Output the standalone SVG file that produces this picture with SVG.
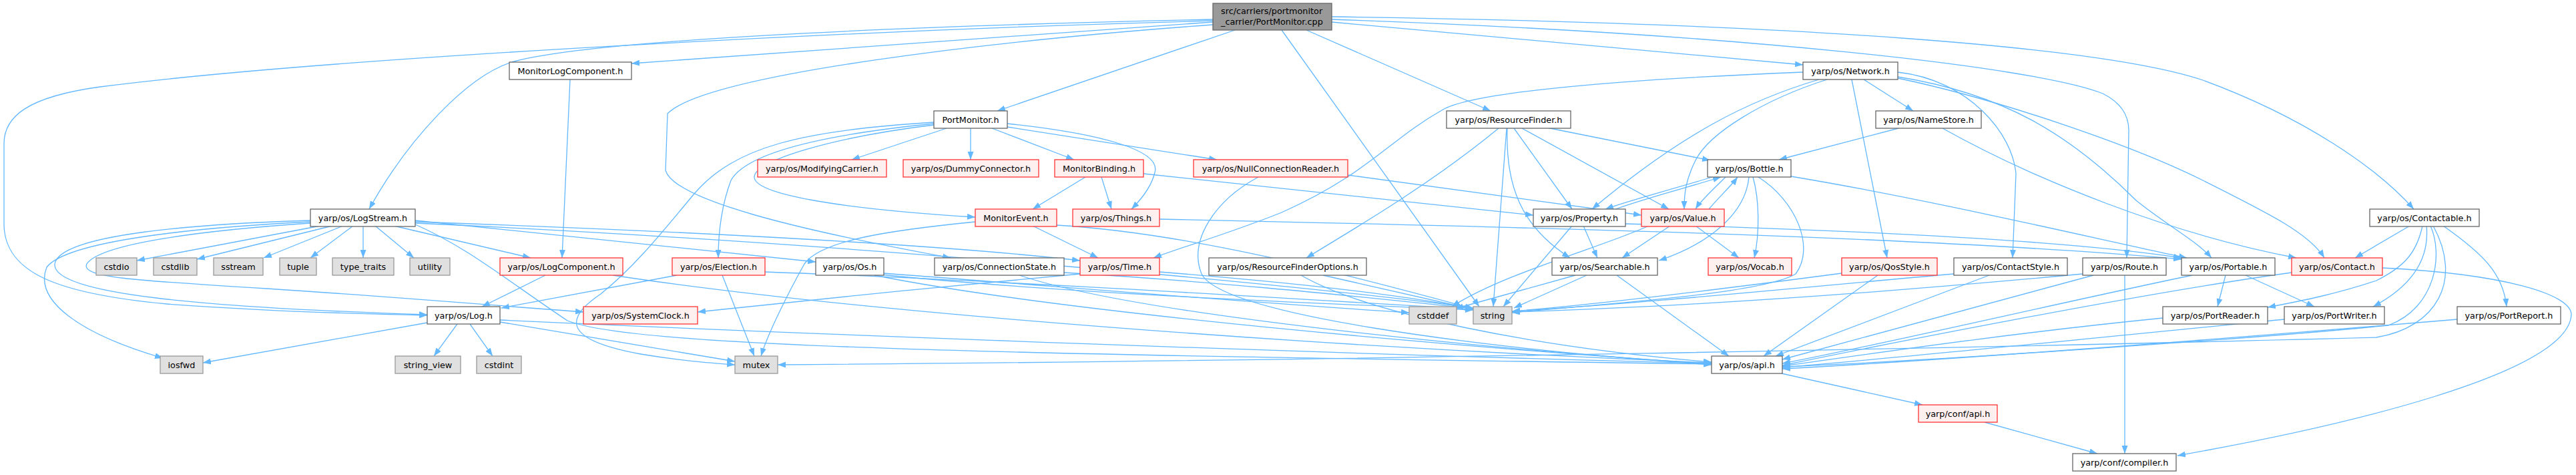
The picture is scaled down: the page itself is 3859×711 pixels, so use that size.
<svg xmlns="http://www.w3.org/2000/svg" width="3859" height="711" viewBox="0 0 3859 711">
<style>
text{font-family:"DejaVu Sans","Liberation Sans",sans-serif;font-size:12.8px;fill:#000;text-anchor:middle}
.w rect{fill:#fff;stroke:#666;stroke-width:1.3}
.r rect{fill:#FFF0F0;stroke:#f33;stroke-width:1.3}
.g rect{fill:#E0E0E0;stroke:#999;stroke-width:1.3}
.t rect{fill:#999;stroke:#666;stroke-width:1.3}
#edges path{fill:none;stroke:#63B8FF;stroke-width:1.3;marker-end:url(#a)}
</style>
<defs><marker id="a" markerWidth="12" markerHeight="9" refX="12" refY="4.5" orient="auto" markerUnits="userSpaceOnUse"><path d="M0,0L12,4.5L0,9z" fill="#63B8FF"/></marker></defs>
<rect width="3859" height="711" fill="#fff"/>
<g id="edges">
<path d="M1817,33 L946,95"/>
<path d="M1817,29 C1300,40 880,62 770,92 C700,112 610,210 553,313"/>
<path d="M1817,31 C1300,45 500,85 150,130 C40,145 6,175 6,215 L6,335 C6,410 90,440 250,455 C400,466 540,470 640,472"/>
<path d="M1817,37 C1500,60 1060,110 1000,170 L997,255 C1010,300 1200,345 1424,386"/>
<path d="M1850,45 L1494,166"/>
<path d="M1957,45 L2233,166"/>
<path d="M1920,45 L2216,459"/>
<path d="M1995,33 L2701,97"/>
<path d="M1995,25 C2700,35 3150,70 3300,120 C3450,175 3560,250 3616,313"/>
<path d="M1995,29 C2600,50 3050,100 3150,140 C3180,155 3189,175 3189,195 L3186,386"/>
<path d="M854,119 L842,386"/>
<path d="M1418,192 L1276,239"/>
<path d="M1454,192 L1454,239"/>
<path d="M1486,192 L1609,239"/>
<path d="M1509,185 C1650,200 1740,225 1730,258 C1725,280 1710,298 1695,313"/>
<path d="M1509,190 L1823,239"/>
<path d="M1399,183 C1200,195 1100,220 1040,290 C990,350 950,400 900,440 C840,480 850,510 960,530 C1020,540 1060,543 1101,546"/>
<path d="M1399,185 C1250,200 1120,225 1095,270 C1080,310 1076,350 1076,386"/>
<path d="M1399,187 C1250,205 1130,240 1130,265 C1130,290 1250,312 1461,325"/>
<path d="M1626,265 L1547,313"/>
<path d="M1650,265 L1665,313"/>
<path d="M1713,260 L2297,322"/>
<path d="M2019,262 L2459,322"/>
<path d="M1885,265 C1820,300 1780,360 1800,410 C1830,470 2200,520 2564,546"/>
<path d="M1737,328 C2300,340 2900,355 3268,388"/>
<path d="M1547,338 L1645,386"/>
<path d="M1461,332 C1330,345 1230,360 1205,395 C1180,440 1150,500 1140,533"/>
<path d="M1583,337 C1800,350 2050,420 2207,462"/>
<path d="M2245,192 C2150,270 2050,330 1957,386"/>
<path d="M2257,192 L2237,459"/>
<path d="M2258,192 C2255,280 2280,340 2352,386"/>
<path d="M2268,192 L2355,313"/>
<path d="M2280,192 L2500,313"/>
<path d="M2317,191 L2562,240"/>
<path d="M2701,108 C2400,120 2200,140 2160,165 C2080,210 2050,260 1920,318 C1840,350 1770,370 1728,386"/>
<path d="M2725,119 C2620,150 2520,200 2385,313"/>
<path d="M2737,119 C2640,150 2560,200 2540,240 C2525,270 2523,290 2523,313"/>
<path d="M2774,119 L2827,386"/>
<path d="M2792,119 L2866,166"/>
<path d="M2843,108 C2950,120 3015,200 3020,260 L3015,386"/>
<path d="M2843,117 C3000,150 3200,220 3300,270 C3400,320 3460,350 3482,386"/>
<path d="M2843,115 C3000,140 3100,200 3200,300 C3250,340 3290,360 3313,386"/>
<path d="M2844,192 L2665,239"/>
<path d="M2910,192 C3050,270 3250,350 3440,386"/>
<path d="M2565,265 C2500,285 2440,300 2405,313"/>
<path d="M2420,313 C2470,295 2530,280 2578,265"/>
<path d="M2585,265 C2565,285 2548,300 2540,313"/>
<path d="M2560,313 C2575,295 2592,280 2603,265"/>
<path d="M2620,265 C2615,320 2560,365 2485,390"/>
<path d="M2626,265 C2636,300 2636,350 2628,386"/>
<path d="M2634,265 C2690,300 2720,370 2690,410 C2640,440 2400,455 2265,468"/>
<path d="M2683,264 C2900,300 3150,360 3276,386"/>
<path d="M2372,338 L2393,386"/>
<path d="M2355,338 L2252,459"/>
<path d="M2435,335 C2800,345 3100,360 3268,386"/>
<path d="M2502,338 L2430,386"/>
<path d="M2470,338 C2400,370 2250,410 2175,459"/>
<path d="M2540,338 L2605,386"/>
<path d="M2377,412 L2268,461"/>
<path d="M2360,412 L2180,462"/>
<path d="M2422,412 L2590,533"/>
<path d="M1982,412 L2207,463"/>
<path d="M1949,412 C2050,470 2300,520 2564,542"/>
<path d="M1527,412 C1700,470 2200,520 2564,545"/>
<path d="M1594,408 C1800,420 2000,440 2207,462"/>
<path d="M1618,410 C1450,425 1200,450 1045,467"/>
<path d="M1737,407 C1900,420 2100,440 2207,463"/>
<path d="M1324,409 C1600,430 1900,455 2111,468"/>
<path d="M1310,412 C1600,470 2200,520 2564,545"/>
<path d="M1320,411 C1600,440 2000,455 2207,464"/>
<path d="M1014,412 L751,461"/>
<path d="M1082,412 L1130,533"/>
<path d="M1146,407 C1500,420 1900,445 2207,463"/>
<path d="M817,412 L722,459"/>
<path d="M918,412 C1300,470 2000,520 2564,543"/>
<path d="M640,483 L304,543"/>
<path d="M685,485 L650,533"/>
<path d="M704,485 L738,533"/>
<path d="M749,482 L1101,541"/>
<path d="M749,479 C1200,500 2000,530 2564,544"/>
<path d="M480,338 L205,390"/>
<path d="M498,338 L295,388"/>
<path d="M514,338 L395,386"/>
<path d="M529,338 L465,386"/>
<path d="M544,338 L544,386"/>
<path d="M562,338 L620,386"/>
<path d="M590,338 L795,386"/>
<path d="M622,330 L1222,392"/>
<path d="M622,332 C1000,345 1400,365 1618,390"/>
<path d="M622,334 C1200,360 1900,420 2207,461"/>
<path d="M465,330 C300,335 90,350 82,395 C78,440 300,460 640,471"/>
<path d="M465,332 C300,340 100,360 70,400 C50,450 120,500 244,536"/>
<path d="M465,334 C300,345 150,365 130,395 C120,415 200,420 400,432 C600,445 750,458 874,467"/>
<path d="M622,336 C700,370 760,420 850,480 C950,520 1500,530 2564,545"/>
<path d="M3610,338 L3528,386"/>
<path d="M3629,338 C3620,380 3600,400 3560,420 C3500,440 3450,450 3397,460"/>
<path d="M3635,338 C3640,390 3610,430 3555,459"/>
<path d="M3641,338 C3660,380 3650,460 3578,487 C3400,505 2900,540 2670,549"/>
<path d="M3660,338 C3720,380 3750,410 3755,459"/>
<path d="M3645,338 C3690,420 3650,490 3560,505 C3000,520 2000,540 1165,546"/>
<path d="M3334,412 L3322,459"/>
<path d="M3364,412 L3467,459"/>
<path d="M3284,412 C3100,450 2800,520 2670,544"/>
<path d="M3433,408 C3200,440 2800,520 2670,547"/>
<path d="M3569,401 C3750,410 3850,440 3852,470 C3850,560 3500,640 3262,682"/>
<path d="M3136,412 L2670,538"/>
<path d="M3183,412 L3183,679"/>
<path d="M3120,410 C2800,440 2500,460 2265,467"/>
<path d="M2980,412 L2660,533"/>
<path d="M2927,410 C2700,430 2450,455 2265,466"/>
<path d="M2813,412 L2642,533"/>
<path d="M2759,409 C2600,430 2400,455 2265,466"/>
<path d="M3240,476 C3000,500 2800,530 2670,548"/>
<path d="M3422,478 C3100,510 2800,540 2670,550"/>
<path d="M3681,478 C3300,510 2900,540 2670,552"/>
<path d="M2669,559 L2880,606"/>
<path d="M2973,632 L3142,679"/>
</g>
<g id="n0" class="t"><rect x="1817" y="5" width="178" height="40"/><text x="1829" y="20.5" style="text-anchor:start">src/carriers/portmonitor</text><text x="1829" y="36.5" style="text-anchor:start">_carrier/PortMonitor.cpp</text></g>
<g id="n1" class="w"><rect x="763" y="93" width="183" height="26"/><text x="854.5" y="110.5">MonitorLogComponent.h</text></g>
<g id="n2" class="w"><rect x="2701" y="93" width="142" height="26"/><text x="2772" y="110.5">yarp/os/Network.h</text></g>
<g id="n3" class="w"><rect x="1399" y="166" width="110" height="26"/><text x="1454" y="183.5">PortMonitor.h</text></g>
<g id="n4" class="w"><rect x="2167" y="166" width="186" height="26"/><text x="2260" y="183.5">yarp/os/ResourceFinder.h</text></g>
<g id="n5" class="w"><rect x="2810" y="166" width="158" height="26"/><text x="2889" y="183.5">yarp/os/NameStore.h</text></g>
<g id="n6" class="r"><rect x="1135" y="239" width="193" height="26"/><text x="1231.5" y="256.5">yarp/os/ModifyingCarrier.h</text></g>
<g id="n7" class="r"><rect x="1353" y="239" width="203" height="26"/><text x="1454.5" y="256.5">yarp/os/DummyConnector.h</text></g>
<g id="n8" class="r"><rect x="1580" y="239" width="133" height="26"/><text x="1646.5" y="256.5">MonitorBinding.h</text></g>
<g id="n9" class="r"><rect x="1788" y="239" width="231" height="26"/><text x="1903.5" y="256.5">yarp/os/NullConnectionReader.h</text></g>
<g id="n10" class="w"><rect x="2558" y="239" width="125" height="26"/><text x="2620.5" y="256.5">yarp/os/Bottle.h</text></g>
<g id="n11" class="w"><rect x="465" y="313" width="157" height="26"/><text x="543.5" y="330.5">yarp/os/LogStream.h</text></g>
<g id="n12" class="r"><rect x="1461" y="313" width="122" height="26"/><text x="1522" y="330.5">MonitorEvent.h</text></g>
<g id="n13" class="r"><rect x="1607" y="313" width="130" height="26"/><text x="1672" y="330.5">yarp/os/Things.h</text></g>
<g id="n14" class="w"><rect x="2297" y="313" width="138" height="26"/><text x="2366" y="330.5">yarp/os/Property.h</text></g>
<g id="n15" class="r"><rect x="2459" y="313" width="124" height="26"/><text x="2521" y="330.5">yarp/os/Value.h</text></g>
<g id="n16" class="w"><rect x="3550" y="313" width="164" height="26"/><text x="3632" y="330.5">yarp/os/Contactable.h</text></g>
<g id="n17" class="g"><rect x="144" y="386" width="61" height="26"/><text x="174.5" y="403.5">cstdio</text></g>
<g id="n18" class="g"><rect x="230" y="386" width="65" height="26"/><text x="262.5" y="403.5">cstdlib</text></g>
<g id="n19" class="g"><rect x="320" y="386" width="74" height="26"/><text x="357" y="403.5">sstream</text></g>
<g id="n20" class="g"><rect x="419" y="386" width="55" height="26"/><text x="446.5" y="403.5">tuple</text></g>
<g id="n21" class="g"><rect x="498" y="386" width="92" height="26"/><text x="544" y="403.5">type_traits</text></g>
<g id="n22" class="g"><rect x="614" y="386" width="60" height="26"/><text x="644" y="403.5">utility</text></g>
<g id="n23" class="r"><rect x="749" y="386" width="184" height="26"/><text x="841" y="403.5">yarp/os/LogComponent.h</text></g>
<g id="n24" class="r"><rect x="1007" y="386" width="139" height="26"/><text x="1076.5" y="403.5">yarp/os/Election.h</text></g>
<g id="n25" class="w"><rect x="1222" y="386" width="102" height="26"/><text x="1273" y="403.5">yarp/os/Os.h</text></g>
<g id="n26" class="w"><rect x="1400" y="386" width="194" height="26"/><text x="1497" y="403.5">yarp/os/ConnectionState.h</text></g>
<g id="n27" class="r"><rect x="1618" y="386" width="119" height="26"/><text x="1677.5" y="403.5">yarp/os/Time.h</text></g>
<g id="n28" class="w"><rect x="1811" y="386" width="236" height="26"/><text x="1929" y="403.5">yarp/os/ResourceFinderOptions.h</text></g>
<g id="n29" class="w"><rect x="2325" y="386" width="158" height="26"/><text x="2404" y="403.5">yarp/os/Searchable.h</text></g>
<g id="n30" class="r"><rect x="2559" y="386" width="125" height="26"/><text x="2621.5" y="403.5">yarp/os/Vocab.h</text></g>
<g id="n31" class="r"><rect x="2759" y="386" width="143" height="26"/><text x="2830.5" y="403.5">yarp/os/QosStyle.h</text></g>
<g id="n32" class="w"><rect x="2927" y="386" width="170" height="26"/><text x="3012" y="403.5">yarp/os/ContactStyle.h</text></g>
<g id="n33" class="w"><rect x="3120" y="386" width="125" height="26"/><text x="3182.5" y="403.5">yarp/os/Route.h</text></g>
<g id="n34" class="w"><rect x="3268" y="386" width="140" height="26"/><text x="3338" y="403.5">yarp/os/Portable.h</text></g>
<g id="n35" class="r"><rect x="3433" y="386" width="136" height="26"/><text x="3501" y="403.5">yarp/os/Contact.h</text></g>
<g id="n36" class="w"><rect x="640" y="459" width="109" height="26"/><text x="694.5" y="476.5">yarp/os/Log.h</text></g>
<g id="n37" class="r"><rect x="874" y="459" width="171" height="26"/><text x="959.5" y="476.5">yarp/os/SystemClock.h</text></g>
<g id="n38" class="g"><rect x="2111" y="459" width="71" height="26"/><text x="2146.5" y="476.5">cstddef</text></g>
<g id="n39" class="g"><rect x="2207" y="459" width="58" height="26"/><text x="2236" y="476.5">string</text></g>
<g id="n40" class="w"><rect x="3240" y="459" width="157" height="26"/><text x="3318.5" y="476.5">yarp/os/PortReader.h</text></g>
<g id="n41" class="w"><rect x="3422" y="459" width="150" height="26"/><text x="3497" y="476.5">yarp/os/PortWriter.h</text></g>
<g id="n42" class="w"><rect x="3681" y="459" width="155" height="26"/><text x="3758.5" y="476.5">yarp/os/PortReport.h</text></g>
<g id="n43" class="g"><rect x="240" y="533" width="64" height="26"/><text x="272" y="550.5">iosfwd</text></g>
<g id="n44" class="g"><rect x="592" y="533" width="98" height="26"/><text x="641" y="550.5">string_view</text></g>
<g id="n45" class="g"><rect x="714" y="533" width="67" height="26"/><text x="747.5" y="550.5">cstdint</text></g>
<g id="n46" class="g"><rect x="1101" y="533" width="64" height="26"/><text x="1133" y="550.5">mutex</text></g>
<g id="n47" class="w"><rect x="2564" y="533" width="106" height="26"/><text x="2617" y="550.5">yarp/os/api.h</text></g>
<g id="n48" class="r"><rect x="2874" y="606" width="118" height="26"/><text x="2933" y="623.5">yarp/conf/api.h</text></g>
<g id="n49" class="w"><rect x="3105" y="679" width="155" height="26"/><text x="3182.5" y="696.5">yarp/conf/compiler.h</text></g>
</svg>
